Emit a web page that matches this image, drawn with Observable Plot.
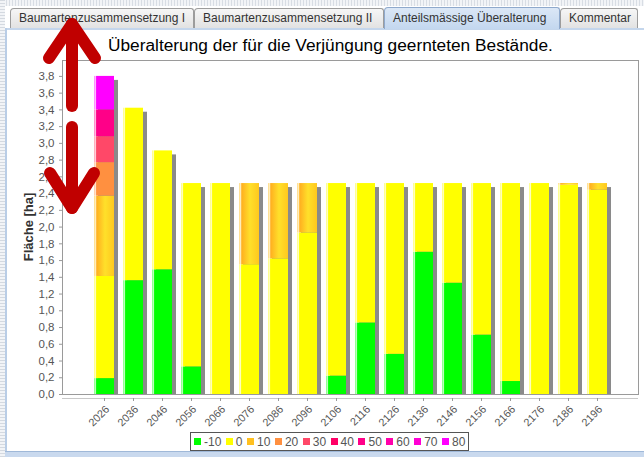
<!DOCTYPE html>
<html><head><meta charset="utf-8">
<script src="https://cdn.jsdelivr.net/npm/d3@7"></script>
<script src="https://cdn.jsdelivr.net/npm/@observablehq/plot@0.6"></script>
<style>
html,body{margin:0;padding:0;background:#fff;}
#wrap{position:relative;width:644px;height:457px;background:#fff;overflow:hidden;font-family:"Liberation Sans",Arial,sans-serif;}
.strip-top{position:absolute;left:0;top:0;width:644px;height:6px;background:repeating-linear-gradient(90deg,#d8dde4 0 1px,#f2f4f7 1px 3px);}
.strip-left{position:absolute;left:0;top:0;width:5px;height:457px;background:repeating-linear-gradient(0deg,#d4d9e0 0 1px,#f2f4f7 1px 3px);}
.bline-left{position:absolute;left:5px;top:28px;width:2px;height:425px;background:#b9cde6;}
.bline-top{position:absolute;left:5px;top:28px;width:639px;height:2px;background:#c4d6ec;}
.bline-bottom{position:absolute;left:5px;top:451px;width:639px;height:6px;background:#c9d9ee;border-top:1px solid #9fb8d8;}
.tab{position:absolute;top:8px;height:20px;box-sizing:border-box;border:1px solid #9c9c9c;border-bottom:none;border-radius:4px 3px 0 0;background:linear-gradient(#f6f6f6,#e2e2e2);font-size:12px;color:#333;line-height:19px;padding-left:8px;white-space:nowrap;overflow:hidden;}
.tab.sel{top:7px;height:22px;background:linear-gradient(#dbe7f6,#c3d7ef);border-color:#8fa9cc;line-height:20px;}
.title{position:absolute;left:108px;top:35px;text-align:left;font-size:17.3px;line-height:20px;color:#000;white-space:nowrap;}
.ylab{position:absolute;left:28px;top:227px;transform:translate(-50%,-50%) rotate(-90deg);font-size:13px;font-weight:bold;color:#333;white-space:nowrap;}
#plot{position:absolute;left:0;top:0;}
#plot svg{background:transparent;overflow:visible;}
.legend{position:absolute;left:190px;top:432px;height:19px;box-sizing:border-box;border:1px solid #555;background:#fff;display:flex;align-items:center;padding:0 3px 0 3px;font-size:12px;color:#555;}
.li{display:flex;align-items:center;margin-right:4.5px;}
.li:last-child{margin-right:0;}
.sw{width:7px;height:7px;margin-right:3px;}
#arrows{position:absolute;left:0;top:0;pointer-events:none;}
</style></head>
<body>
<div id="wrap">
  <div class="strip-top"></div>
  <div class="strip-left"></div>
  <div class="bline-top"></div>
  <div class="bline-left"></div>
  <div class="bline-bottom"></div>
  <div class="tab" style="left:10px;width:184px;">Baumartenzusammensetzung I</div>
  <div class="tab" style="left:194px;width:190px;">Baumartenzusammensetzung II</div>
  <div class="tab sel" style="left:384px;width:176px;">Anteilsmässige Überalterung</div>
  <div class="tab" style="left:560px;width:78px;">Kommentar</div>
  <div class="title">Überalterung der für die Verjüngung geernteten Bestände.</div>
  <div id="plot"></div>
  <div class="ylab">Fläche [ha]</div>
  <div class="legend" id="legend"></div>
  <svg id="arrows" width="644" height="457">
    <g stroke="#c00000" stroke-width="12" fill="none" stroke-linecap="round" stroke-linejoin="round">
      <path d="M72,106 L72,24"/>
      <path d="M49,58 L72,24 L95,58"/>
      <path d="M72,127 L72,208"/>
      <path d="M50,173 L72,208 L94,173"/>
    </g>
  </svg>
</div>
<script>
// ---- data ----
const years = ["2026","2036","2046","2056","2066","2076","2086","2096","2106","2116","2126","2136","2146","2156","2166","2176","2186","2196"];
const categories = ["-10","0","10","20","30","40","50","60","70","80"];
const colors = ["#00ff00","#ffff00","#ffc020","#ff9040","#ff4868","#ff0066","#ff0088","#ff00aa","#ff00d4","#ff00ff"];
const vMinus10 = [0.19,1.36,1.49,0.33,0,0,0,0,0.22,0.855,0.48,1.70,1.33,0.71,0.155,0,0,0];
const v0      = [1.22,2.06,1.42,2.19,2.52,1.55,1.62,1.93,2.30,1.665,2.04,0.82,1.19,1.81,2.365,2.52,2.50,2.44];
const v10     = [0.96,0,0,0,0,0.97,0.90,0.59,0,0,0,0,0,0,0,0,0.02,0.08];
const v20     = [0.40,0,0,0,0,0,0,0,0,0,0,0,0,0,0,0,0,0];
const v30     = [0.31,0,0,0,0,0,0,0,0,0,0,0,0,0,0,0,0,0];
const v40     = [0,0,0,0,0,0,0,0,0,0,0,0,0,0,0,0,0,0];
const v50     = [0.32,0,0,0,0,0,0,0,0,0,0,0,0,0,0,0,0,0];
const v60     = [0,0,0,0,0,0,0,0,0,0,0,0,0,0,0,0,0,0];
const v70     = [0,0,0,0,0,0,0,0,0,0,0,0,0,0,0,0,0,0];
const v80     = [0.40,0,0,0,0,0,0,0,0,0,0,0,0,0,0,0,0,0];
const yTicks = [0,0.2,0.4,0.6,0.8,1.0,1.2,1.4,1.6,1.8,2.0,2.2,2.4,2.6,2.8,3.0,3.2,3.4,3.6,3.8];

const series = [vMinus10,v0,v10,v20,v30,v40,v50,v60,v70,v80];
const data = [];
years.forEach((y, i) => {
  categories.forEach((c, k) => {
    if (series[k][i] > 0) data.push({year: y, cat: c, value: series[k][i]});
  });
});

const grads = categories.map((c, i) => `url(#g${i})`);

const chart = Plot.plot({
  width: 644,
  height: 430,
  marginTop: 60,
  marginBottom: 36,
  marginLeft: 62,
  marginRight: 6,
  style: {background: "transparent", fontFamily: "'Liberation Sans', Arial, sans-serif", color: "#555"},
  x: {type: "band", domain: years, paddingInner: 0.32, paddingOuter: 0.98, label: null},
  y: {domain: [0, 3.99], label: null},
  color: {type: "ordinal", domain: categories, range: grads},
  marks: [
    Plot.barY(data, Plot.groupX({y: "sum"}, {x: "year", y: "value", fill: "#8a8a8a", dx: 4, dy: 4, clip: true})),
    Plot.barY(data, {x: "year", y: "value", fill: "cat"}),
    Plot.frame({stroke: "#9a9a9a"}),
    Plot.ruleY([0], {dy: 4, stroke: "#c8c8c8"}),
    Plot.axisY({ticks: yTicks, tickSize: 3, tickPadding: 5, fontSize: 11.5, tickFormat: d => d.toFixed(1).replace(".", ","), label: null, stroke: "#999"}),
    Plot.axisX({tickSize: 3, dy: 4, tickFormat: () => "", label: null, stroke: "#999"}),
    Plot.axisX({tickRotate: -45, tickSize: 0, tickPadding: 13, fontSize: 10.8, dx: 3, label: null})
  ]
});

// gradient definitions mimicking the bar painter highlight
function mix(hex, t) {
  const c = d3.rgb(hex);
  return d3.rgb(c.r + (255 - c.r) * t, c.g + (255 - c.g) * t, c.b + (255 - c.b) * t).formatHex();
}
const ns = "http://www.w3.org/2000/svg";
const defs = document.createElementNS(ns, "defs");
colors.forEach((col, i) => {
  const g = document.createElementNS(ns, "linearGradient");
  g.setAttribute("id", "g" + i);
  g.setAttribute("x1", "0"); g.setAttribute("x2", "1"); g.setAttribute("y1", "0"); g.setAttribute("y2", "0");
  let stops;
  if (categories[i] === "10") {
    stops = [[0, "#ffd77a"], [0.07, "#fff2c8"], [0.14, "#ffb020"], [0.55, "#ffe02a"], [1, "#ffc81e"]];
  } else {
    stops = [[0, mix(col, 0.45)], [0.07, mix(col, 0.8)], [0.13, col], [1, col]];
  }
  stops.forEach(([o, c]) => {
    const s = document.createElementNS(ns, "stop");
    s.setAttribute("offset", o);
    s.setAttribute("stop-color", c);
    g.appendChild(s);
  });
  defs.appendChild(g);
});
chart.insertBefore(defs, chart.firstChild);
document.getElementById("plot").appendChild(chart);

// legend
const leg = document.getElementById("legend");
categories.forEach((c, i) => {
  const item = document.createElement("div");
  item.className = "li";
  item.innerHTML = `<div class="sw" style="background:${colors[i]}"></div><span>${c}</span>`;
  leg.appendChild(item);
});
</script>
</body></html>
